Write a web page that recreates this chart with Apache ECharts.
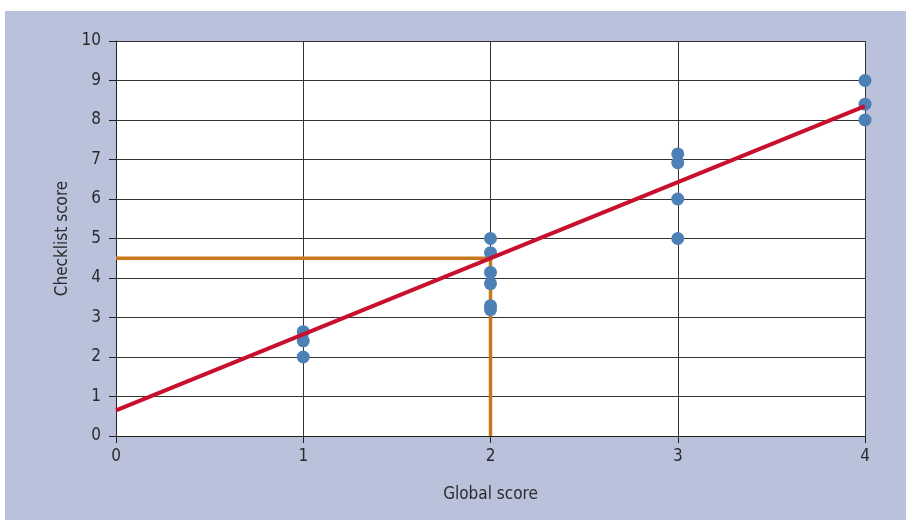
<!DOCTYPE html>
<html>
<head>
<meta charset="utf-8">
<script src="https://cdn.jsdelivr.net/npm/echarts@6/dist/echarts.min.js"></script>
<style>
  html, body { margin: 0; padding: 0; background: #ffffff; }
  #chart { width: 906px; height: 524px; }
</style>
</head>
<body>
<div id="chart"></div>
<script>
// Observed scores: global rating (x) against checklist score (y)
const globalScore    = [1, 1, 1, 2, 2, 2, 2, 2, 2, 3, 3, 3, 3, 4, 4, 4];
const checklistScore = [2.64, 2.41, 2.0, 5.0, 4.64, 4.14, 3.86, 3.3, 3.2, 7.14, 6.92, 6.0, 5.0, 9.0, 8.4, 8.0];

// Fitted regression line endpoints
const fitX = [0, 4];
const fitY = [0.65, 8.35];

// Cut-off guide: checklist score 4.5 at global score 2
const cutX = [0, 2, 2];
const cutY = [4.5, 4.5, 0];

// Axis ticks
const xTicks = [0, 1, 2, 3, 4];
const yTicks = [0, 1, 2, 3, 4, 5, 6, 7, 8, 9, 10];

const FONT = '"Liberation Sans Narrow", "DejaVu Sans Condensed", "Liberation Sans", sans-serif';

const pairs = (xs, ys) => xs.map((x, i) => [x, ys[i]]);

const chart = echarts.init(document.getElementById('chart'), null, { renderer: 'canvas' });

chart.setOption({
  animation: false,
  backgroundColor: '#ffffff',
  graphic: [{
    type: 'rect',
    left: 5, top: 11,
    shape: { width: 901, height: 509 },
    style: { fill: '#b9c1db' },
    z: -10
  }],
  grid: {
    left: 116, top: 41, width: 749, height: 395,
    show: true, backgroundColor: '#ffffff', borderWidth: 0
  },
  xAxis: {
    type: 'value',
    min: xTicks[0], max: xTicks[xTicks.length - 1], interval: 1,
    name: 'Global score',
    nameLocation: 'middle',
    nameGap: 50,
    nameTextStyle: { fontFamily: FONT, fontSize: 17, color: '#2b2b2b' },
    axisLine: { show: true, lineStyle: { color: '#222', width: 1 } },
    axisTick: { show: true, inside: false, length: 7, lineStyle: { color: '#222' } },
    axisLabel: { margin: 12, fontFamily: FONT, fontSize: 17, color: '#2b2b2b' },
    splitLine: { show: true, lineStyle: { color: '#333', width: 1 } }
  },
  yAxis: {
    type: 'value',
    min: yTicks[0], max: yTicks[yTicks.length - 1], interval: 1,
    name: 'Checklist score',
    nameLocation: 'middle',
    nameGap: 45,
    nameTextStyle: { fontFamily: FONT, fontSize: 17, color: '#2b2b2b' },
    axisLine: { show: true, lineStyle: { color: '#222', width: 1 } },
    axisTick: { show: true, inside: false, length: 7, lineStyle: { color: '#222' } },
    axisLabel: { margin: 15, fontFamily: FONT, fontSize: 17, color: '#2b2b2b' },
    splitLine: { show: true, lineStyle: { color: '#333', width: 1 } }
  },
  series: [
    {
      type: 'line',
      data: pairs(cutX, cutY),
      showSymbol: false,
      lineStyle: { color: '#c8771b', width: 3.5 },
      z: 2
    },
    {
      type: 'scatter',
      data: pairs(globalScore, checklistScore),
      symbolSize: 13,
      itemStyle: { color: '#4d80b4', opacity: 1 },
      z: 3
    },
    {
      type: 'line',
      data: pairs(fitX, fitY),
      showSymbol: false,
      lineStyle: { color: '#c8102e', width: 4 },
      z: 4
    }
  ]
});
</script>
</body>
</html>
